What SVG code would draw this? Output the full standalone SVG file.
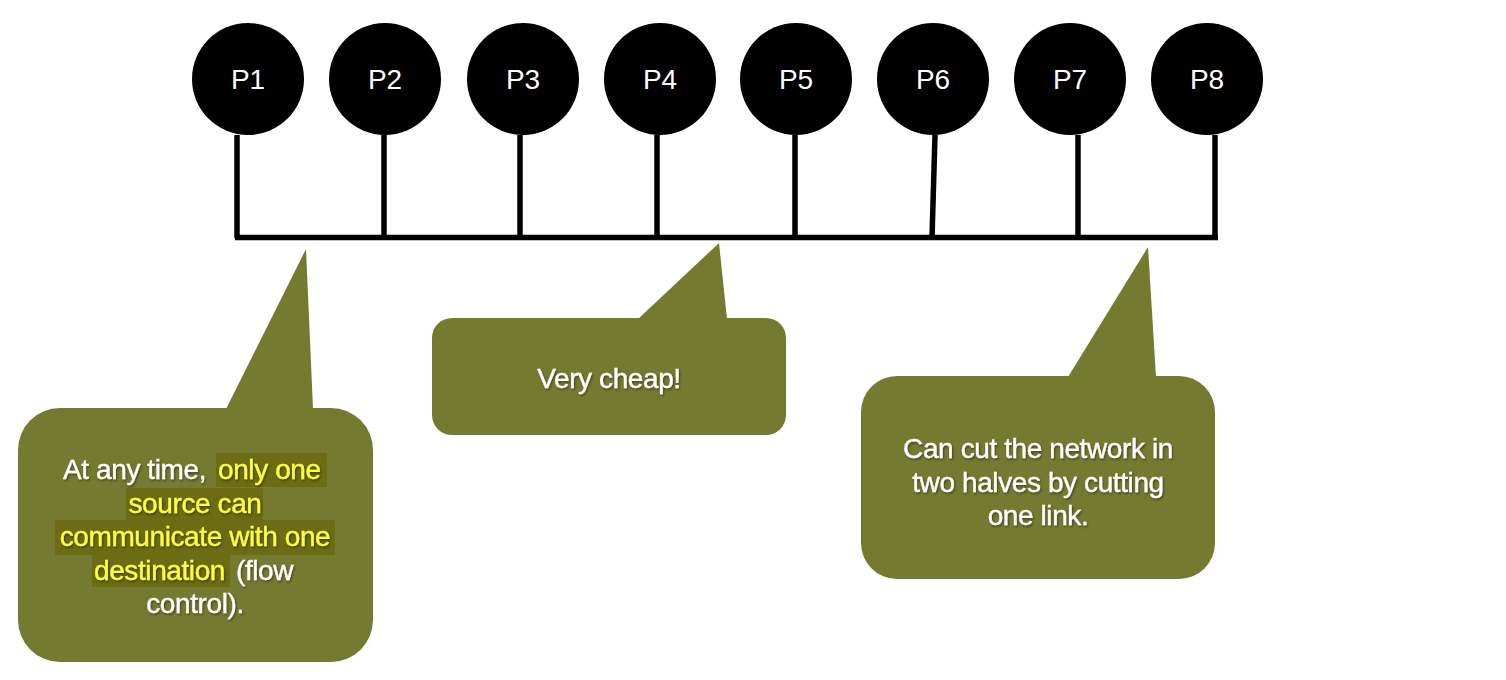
<svg xmlns="http://www.w3.org/2000/svg" width="1506" height="680" viewBox="0 0 1506 680">
<defs>
<filter id="sh" x="-10%" y="-10%" width="120%" height="130%">
<feDropShadow dx="1" dy="1.5" stdDeviation="1" flood-color="#000" flood-opacity="0.45"/>
</filter>
</defs>
<style>
.node{fill:#000}
.nlabel{fill:#fff;font-family:"Liberation Sans",Arial,sans-serif;font-size:28px;text-anchor:middle}
.wire{stroke:#000;stroke-width:5.5;fill:none}
.call{fill:#757A31}
.ct{fill:#fff;stroke:#fff;stroke-width:0.35px;font-family:"Liberation Sans",Arial,sans-serif;font-size:28px;letter-spacing:-0.4px}
.hl{fill:#FFFF40;stroke:#FFFF40}
.hbg{fill:#6C6C14}
</style>
<rect width="1506" height="680" fill="#fff"/>
<g id="connectors">
<line class="wire" x1="237" y1="135" x2="237" y2="238"/>
<line class="wire" x1="384" y1="135" x2="384" y2="238"/>
<line class="wire" x1="520" y1="135" x2="520" y2="238"/>
<line class="wire" x1="657" y1="135" x2="657" y2="238"/>
<line class="wire" x1="795" y1="135" x2="795" y2="238"/>
<line class="wire" x1="935" y1="135" x2="932" y2="238"/>
<line class="wire" x1="1078" y1="135" x2="1078" y2="238"/>
<line class="wire" x1="1215" y1="135" x2="1215" y2="238"/>
<line class="wire" x1="235" y1="237.5" x2="1218" y2="237.5"/>
</g>
<g id="P1"><circle class="node" cx="248" cy="79" r="56"/><text class="nlabel" x="248" y="89">P1</text></g>
<g id="P2"><circle class="node" cx="385" cy="79" r="56"/><text class="nlabel" x="385" y="89">P2</text></g>
<g id="P3"><circle class="node" cx="523" cy="79" r="56"/><text class="nlabel" x="523" y="89">P3</text></g>
<g id="P4"><circle class="node" cx="660" cy="79" r="56"/><text class="nlabel" x="660" y="89">P4</text></g>
<g id="P5"><circle class="node" cx="796" cy="79" r="56"/><text class="nlabel" x="796" y="89">P5</text></g>
<g id="P6"><circle class="node" cx="933" cy="79" r="56"/><text class="nlabel" x="933" y="89">P6</text></g>
<g id="P7"><circle class="node" cx="1070" cy="79" r="56"/><text class="nlabel" x="1070" y="89">P7</text></g>
<g id="P8"><circle class="node" cx="1207" cy="79" r="56"/><text class="nlabel" x="1207" y="89">P8</text></g>
<g id="callout1">
<rect class="call" x="18" y="408" width="355" height="254" rx="42"/>
<polygon class="call" points="226,409 306,249 313,409"/>
<rect class="hbg" x="216" y="453" width="111" height="34"/>
<rect class="hbg" x="126" y="488" width="137" height="32"/>
<rect class="hbg" x="55" y="520" width="280" height="35"/>
<rect class="hbg" x="92" y="555" width="138" height="32"/>
<g filter="url(#sh)">
<text class="ct" x="63" y="479">At any time,</text>
<text class="ct hl" x="218" y="479">only one</text>
<text class="ct hl" x="195" y="513" text-anchor="middle">source can</text>
<text class="ct hl" x="195" y="546" text-anchor="middle">communicate with one</text>
<text class="ct hl" x="94" y="580">destination</text>
<text class="ct" x="236" y="580">(flow</text>
<text class="ct" x="195" y="613" text-anchor="middle">control).</text>
</g>
</g>
<g id="callout2">
<rect class="call" x="432" y="318" width="354" height="117" rx="20"/>
<polygon class="call" points="638,319 719,243 727,319"/>
<text class="ct" x="609" y="388" text-anchor="middle" filter="url(#sh)">Very cheap!</text>
</g>
<g id="callout3">
<rect class="call" x="861" y="376" width="354" height="203" rx="36"/>
<polygon class="call" points="1068,377 1148,247 1156,377"/>
<g filter="url(#sh)">
<text class="ct" x="1038" y="458" text-anchor="middle">Can cut the network in</text>
<text class="ct" x="1038" y="492" text-anchor="middle">two halves by cutting</text>
<text class="ct" x="1038" y="525" text-anchor="middle">one link.</text>
</g>
</g>
</svg>
